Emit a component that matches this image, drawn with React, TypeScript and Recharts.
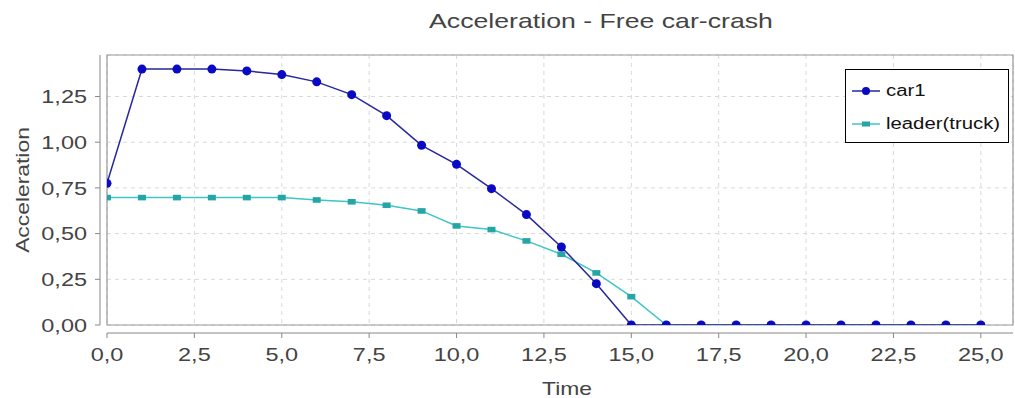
import React from "react";
import {
  LineChart,
  Line,
  XAxis,
  YAxis,
  CartesianGrid,
  ReferenceArea,
  Legend,
} from "recharts";

// simulation time steps (s)
const time = [0, 1, 2, 3, 4, 5, 6, 7, 8, 9, 10, 11, 12, 13, 14, 15, 16, 17, 18, 19, 20, 21, 22, 23, 24, 25];

// acceleration per step
const car1 = [
  0.775, 1.4, 1.4, 1.4, 1.39, 1.37, 1.33, 1.26, 1.145, 0.983, 0.879, 0.746, 0.604,
  0.427, 0.226, 0, 0, 0, 0, 0, 0, 0, 0, 0, 0, 0,
];
const leader = [
  0.697, 0.697, 0.697, 0.697, 0.697, 0.697, 0.684, 0.674, 0.655, 0.624, 0.542, 0.522,
  0.46, 0.387, 0.285, 0.155, 0, 0, 0, 0, 0, 0, 0, 0, 0, 0,
];

const xTicks = [0, 2.5, 5, 7.5, 10, 12.5, 15, 17.5, 20, 22.5, 25];
const yTicks = [0, 0.25, 0.5, 0.75, 1, 1.25];

const X_MAX = 25.92;
const Y_MAX = 1.477;

const data = time.map((t, i) => ({ t, car1: car1[i], leader: leader[i] }));

const FONT = "'Liberation Sans', Arial, sans-serif";
const TEXT = "#444";
// the text is set in a slightly widened face
const STRETCH = 1.27;

const series = [
  { key: "car1", name: "car1", line: "#2626a0", mark: "#0a0ac4", shape: "circle" },
  { key: "leader", name: "leader(truck)", line: "#3ec6c6", mark: "#25a6a6", shape: "square" },
];

const comma = (digits: number) => (v: number) => v.toFixed(digits).replace(".", ",");

const CircleDot = (props: any) => {
  const { cx, cy, fill } = props;
  if (cx == null || cy == null) return null;
  return <circle cx={cx} cy={cy} r={4.5} fill={fill} />;
};

const SquareDot = (props: any) => {
  const { cx, cy, fill } = props;
  if (cx == null || cy == null) return null;
  return <rect x={cx - 4} y={cy - 2.8} width={8} height={5.6} fill={fill} />;
};

const XTick = (props: any) => {
  const { x, y, payload } = props;
  return (
    <g transform={`translate(${x},${y})`}>
      <text transform={`scale(${STRETCH},1)`} textAnchor="middle" dy="0.72em" fill={TEXT} fontFamily={FONT} fontSize={18.5}>
        {comma(1)(payload.value)}
      </text>
    </g>
  );
};

const YTick = (props: any) => {
  const { x, y, payload } = props;
  return (
    <g transform={`translate(${x},${y})`}>
      <text transform={`scale(${STRETCH},1)`} textAnchor="end" dy="0.36em" fill={TEXT} fontFamily={FONT} fontSize={18.5}>
        {comma(2)(payload.value)}
      </text>
    </g>
  );
};

const YLabel = (props: any) => {
  const { viewBox } = props;
  const x = 23;
  const y = viewBox.y + viewBox.height / 2;
  return (
    <g transform={`translate(${x},${y}) rotate(-90) scale(${STRETCH},1)`}>
      <text textAnchor="middle" dy="0.36em" fill={TEXT} fontFamily={FONT} fontSize={18}>
        Acceleration
      </text>
    </g>
  );
};

const XLabel = (props: any) => {
  const { viewBox } = props;
  const x = viewBox.x + viewBox.width / 2 + 7;
  const y = 389;
  return (
    <g transform={`translate(${x},${y}) scale(${STRETCH},1)`}>
      <text textAnchor="middle" dy="0.36em" fill={TEXT} fontFamily={FONT} fontSize={18}>
        Time
      </text>
    </g>
  );
};

const LegendBox = () => (
  <div
    style={{
      border: "1px solid #000",
      background: "#fff",
      width: 164,
      height: 74,
      boxSizing: "border-box",
      fontFamily: FONT,
      fontSize: 16,
      color: "#111",
      padding: "4px 0 0 6px",
    }}
  >
    {series.map((s) => (
      <div key={s.key} style={{ display: "flex", alignItems: "center", height: 33 }}>
        <svg width={30} height={12} style={{ marginRight: 4 }}>
          <line x1={0} y1={6} x2={28} y2={6} stroke={s.line} strokeWidth={1.5} />
          {s.shape === "circle" ? (
            <circle cx={14} cy={6} r={4} fill={s.mark} />
          ) : (
            <rect x={10} y={3.5} width={8} height={5} fill={s.mark} />
          )}
        </svg>
        <span style={{ display: "inline-block", transform: `scaleX(${STRETCH})`, transformOrigin: "left center" }}>
          {s.name}
        </span>
      </div>
    ))}
  </div>
);

export default function App() {
  return (
    <div style={{ position: "absolute", left: 0, top: 0, width: 1015, height: 398, background: "#fff" }}>
      <div
        style={{
          position: "absolute",
          left: 601,
          top: 9,
          transform: `translateX(-50%) scaleX(${STRETCH})`,
          whiteSpace: "nowrap",
          fontFamily: FONT,
          fontSize: 21,
          color: TEXT,
          zIndex: 1,
        }}
      >
        Acceleration - Free car-crash
      </div>
      <LineChart
        width={1015}
        height={398}
        data={data}
        margin={{ top: 55, right: 2, left: 0, bottom: 0 }}
      >
        <CartesianGrid stroke="#d9d9d9" strokeDasharray="4 4" />
        <XAxis
          dataKey="t"
          type="number"
          domain={[0, X_MAX]}
          ticks={xTicks}
          allowDataOverflow
          height={73}
          tickSize={5}
          tickMargin={18}
          axisLine={{ stroke: "#888", transform: "translate(0,8)" }}
          tickLine={{ stroke: "#888", transform: "translate(0,8)" }}
          tick={<XTick />}
          label={XLabel}
        />
        <YAxis
          type="number"
          domain={[0, Y_MAX]}
          ticks={yTicks}
          allowDataOverflow
          width={107}
          tickSize={5}
          tickMargin={15}
          axisLine={{ stroke: "#888", transform: "translate(-7,0)" }}
          tickLine={{ stroke: "#888", transform: "translate(-7,0)" }}
          tick={<YTick />}
          label={YLabel}
        />
        <ReferenceArea x1={0} x2={X_MAX} y1={0} y2={Y_MAX} fill="none" stroke="#999" strokeWidth={1.2} />
        <Line
          dataKey="leader"
          name="leader(truck)"
          stroke="#3ec6c6"
          strokeWidth={1.5}
          fill="#25a6a6"
          dot={<SquareDot />}
          activeDot={false}
          isAnimationActive={false}
        />
        <Line
          dataKey="car1"
          name="car1"
          stroke="#2626a0"
          strokeWidth={1.5}
          fill="#0a0ac4"
          dot={<CircleDot />}
          activeDot={false}
          isAnimationActive={false}
        />
        <Legend
          layout="vertical"
          align="center"
          verticalAlign="middle"
          content={<LegendBox />}
          wrapperStyle={{ position: "absolute", left: 845, top: 69, width: 164, height: 74 }}
        />
      </LineChart>
    </div>
  );
}
